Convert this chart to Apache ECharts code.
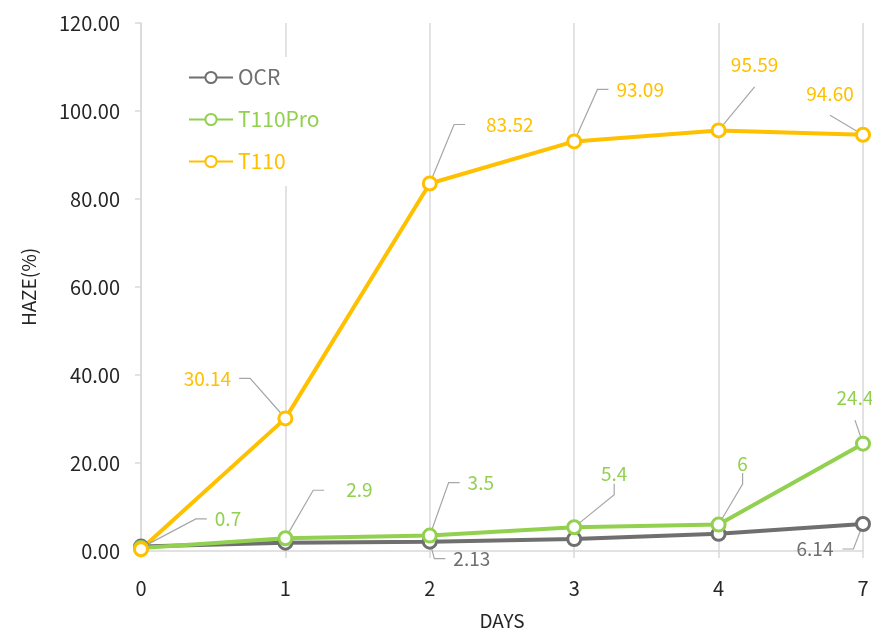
<!DOCTYPE html>
<html>
<head>
<meta charset="utf-8">
<script src="https://cdn.jsdelivr.net/npm/echarts@6/dist/echarts.min.js"></script>
<style>
  html, body { margin: 0; padding: 0; background: #fff; }
  #chart { width: 872px; height: 637px; }
</style>
</head>
<body>
<div id="chart"></div>
<script>
// Haze measurements per day
const days = ['0', '1', '2', '3', '4', '7'];
const ocr = [1.0, 1.9, 2.13, 2.7, 3.9, 6.14];
const t110pro = [0.7, 2.9, 3.5, 5.4, 6, 24.4];
const t110 = [0.4, 30.14, 83.52, 93.09, 95.59, 94.60];
const yTicks = [0, 20, 40, 60, 80, 100, 120];

// Which points carry a value label
const ocrShow = [false, false, true, false, false, true];
const t110proShow = [true, true, true, true, true, true];
const t110Show = [false, true, true, true, true, true];

// Label placement relative to the point centre: [dx, dy, leader style, text gap]
// 'side' leaders end in a short horizontal stub, 'top' leaders run straight up
const ocrOffsets = [null, null, [42, 17, 'side', 8], null, null, [-48, 25, 'side', 9]];
const t110proOffsets = [
  [87, -29, 'side', 8], [74, -48, 'side', 22], [51, -53, 'side', 8],
  [40, -53, 'side', 8], [24, -61, 'side', 8], [-8, -46, 'top', 13]
];
const t110Offsets = [
  null, [-78, -40, 'side', 8], [80, -59, 'side', 21],
  [66, -52, 'side', 8], [36, -66, 'top', 13], [-33, -41, 'top', 12]
];

const COLORS = { ocr: '#6f6f6f', t110pro: '#92d050', t110: '#ffc000' };
const FONT = '"Noto Sans CJK KR", "Noto Sans", sans-serif';
const GRID_GREY = '#d9d9d9';
const TEXT = '#262626';

function buildSeries(name, values, color, show, offsets, fmt) {
  return {
    name: name,
    type: 'line',
    data: values.map((v, i) => {
      const o = offsets[i];
      const item = { value: v, label: { show: show[i] } };
      if (o) {
        if (o[2] === 'top') {
          item.label.padding = [o[3], 0];
          item.labelLine = { length2: 0 };
        } else {
          item.label.padding = [0, o[3]];
          item.labelLine = { length2: 11 };
        }
      }
      return item;
    }),
    symbol: 'circle',
    symbolSize: 13,
    lineStyle: { color: color, width: 4 },
    itemStyle: { color: '#fff', borderColor: color, borderWidth: 3 },
    emphasis: { disabled: true },
    label: {
      color: color,
      fontFamily: FONT,
      fontSize: 19,
      // invisible box so the padding keeps the leader clear of the text
      backgroundColor: 'rgba(255,255,255,0)',
      formatter: p => fmt(p.value)
    },
    labelLine: {
      show: true,
      smooth: false,
      lineStyle: { color: '#a6a6a6', width: 1.2 }
    },
    labelLayout: function (params) {
      const off = offsets[params.dataIndex];
      if (!off) return {};
      const r = params.rect;
      return {
        x: r.x + r.width / 2 + off[0],
        y: r.y + r.height / 2 + off[1],
        align: 'center',
        verticalAlign: 'middle'
      };
    }
  };
}

const chart = echarts.init(document.getElementById('chart'), null, { renderer: 'canvas' });

chart.setOption({
  animation: false,
  backgroundColor: '#fff',
  textStyle: { fontFamily: FONT },
  grid: { left: 141, right: 9, top: 23, bottom: 86, containLabel: false },
  legend: {
    orient: 'vertical',
    left: 180,
    top: 57,
    padding: [10, 10, 14, 8],
    backgroundColor: '#fff',
    itemWidth: 44,
    itemHeight: 14,
    itemGap: 21,
    textStyle: { fontFamily: FONT, fontSize: 21 },
    data: [
      { name: 'OCR', textStyle: { color: COLORS.ocr } },
      { name: 'T110Pro', textStyle: { color: COLORS.t110pro } },
      { name: 'T110', textStyle: { color: COLORS.t110 } }
    ]
  },
  xAxis: {
    type: 'category',
    data: days,
    boundaryGap: false,
    name: 'DAYS',
    nameLocation: 'middle',
    nameGap: 60,
    nameTextStyle: { color: TEXT, fontSize: 19, fontFamily: FONT },
    axisLine: { lineStyle: { color: GRID_GREY, width: 1.5 } },
    axisTick: { show: true, length: 7, lineStyle: { color: GRID_GREY, width: 1.5 } },
    axisLabel: { color: TEXT, fontSize: 20, margin: 27, fontFamily: FONT },
    splitLine: { show: true, lineStyle: { color: GRID_GREY, width: 1.5 } }
  },
  yAxis: {
    type: 'value',
    min: yTicks[0],
    max: yTicks[yTicks.length - 1],
    interval: yTicks[1] - yTicks[0],
    name: 'HAZE(%)',
    nameLocation: 'middle',
    nameRotate: 90,
    nameGap: 103,
    nameTextStyle: { color: TEXT, fontSize: 19, fontFamily: FONT },
    axisLine: { show: true, lineStyle: { color: GRID_GREY, width: 1.5 } },
    axisTick: { show: true, length: 6, lineStyle: { color: GRID_GREY, width: 1.5 } },
    axisLabel: {
      color: TEXT, fontSize: 20, margin: 21, fontFamily: FONT,
      formatter: v => v.toFixed(2)
    },
    splitLine: { show: false }
  },
  series: [
    buildSeries('OCR', ocr, COLORS.ocr, ocrShow, ocrOffsets, v => v.toFixed(2)),
    buildSeries('T110Pro', t110pro, COLORS.t110pro, t110proShow, t110proOffsets, v => String(v)),
    buildSeries('T110', t110, COLORS.t110, t110Show, t110Offsets, v => v.toFixed(2))
  ]
});
</script>
</body>
</html>
